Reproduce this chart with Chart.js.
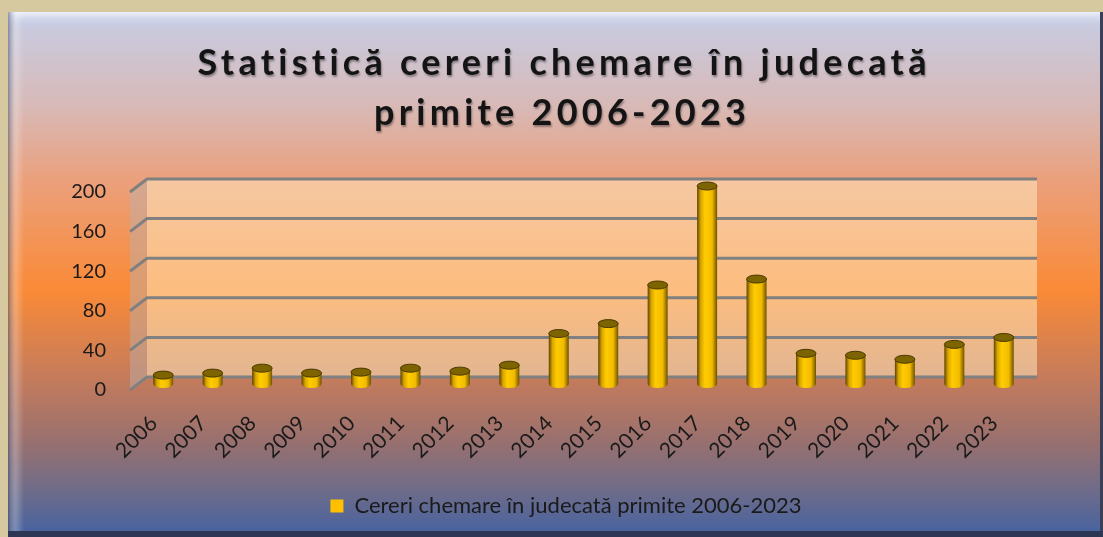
<!DOCTYPE html>
<html>
<head>
<meta charset="utf-8">
<script src="https://cdn.jsdelivr.net/npm/chart.js@4.4.1/dist/chart.umd.min.js"></script>
<style>
  html, body { margin: 0; padding: 0; overflow: hidden; }
  #wrap { width: 1103px; height: 537px; }
</style>
</head>
<body>
<div id="wrap"><canvas id="chart01"></canvas></div>
<script>
// date
var years = ['2006','2007','2008','2009','2010','2011','2012','2013','2014','2015','2016','2017','2018','2019','2020','2021','2022','2023'];
var cereri = [9, 11, 16, 11, 12, 16, 13, 19, 51, 61, 100, 200, 106, 31, 29, 25, 40, 47];
var yTicks = [0, 40, 80, 120, 160, 200];
var titleLines = ['Statistică cereri chemare în judecată', 'primite 2006-2023'];
var seriesName = 'Cereri chemare în judecată primite 2006-2023';

var DX = 17, DY = -13;   // adancimea peretelui 3D
var FONT = 'Lato, "Open Sans", sans-serif';

// fundal + cadru
var backgroundPlugin = {
  id: 'fundal',
  beforeDraw: function (chart) {
    var ctx = chart.ctx, W = chart.width, H = chart.height;
    ctx.save();
    ctx.fillStyle = '#d6c99f';
    ctx.fillRect(0, 0, W, H);

    var g = ctx.createLinearGradient(0, 12, 0, H);
    g.addColorStop(0.00, '#c6cde6');
    g.addColorStop(0.18, '#d8b9b6');
    g.addColorStop(0.32, '#eba07c');
    g.addColorStop(0.53, '#fa8a37');
    g.addColorStop(0.70, '#c47b5c');
    g.addColorStop(0.82, '#98706f');
    g.addColorStop(0.91, '#6f6c89');
    g.addColorStop(1.00, '#4462a2');
    ctx.fillStyle = g;
    ctx.fillRect(8, 12, W - 8, H - 12);

    // bizou sus
    var gt = ctx.createLinearGradient(0, 12, 0, 27);
    gt.addColorStop(0, '#eef1fb');
    gt.addColorStop(1, 'rgba(200,208,234,0)');
    ctx.fillStyle = gt;
    ctx.fillRect(8, 12, W - 8, 15);
    // bizou stanga
    var gl = ctx.createLinearGradient(8, 0, 24, 0);
    gl.addColorStop(0, 'rgba(70,80,110,0.55)');
    gl.addColorStop(0.5, 'rgba(255,255,255,0.25)');
    gl.addColorStop(1, 'rgba(255,255,255,0)');
    ctx.fillStyle = gl;
    ctx.fillRect(8, 12, 16, H - 12);
    // margini inchise
    ctx.fillStyle = '#3b4058';
    ctx.fillRect(W - 3, 12, 3, H - 12);
    ctx.fillStyle = '#2d3754';
    ctx.fillRect(8, H - 6, W - 8, 6);

    // titlu
    ctx.fillStyle = '#141414';
    ctx.font = 'bold 36px ' + FONT;
    ctx.textAlign = 'center';
    ctx.textBaseline = 'alphabetic';
    ctx.shadowColor = 'rgba(0,0,0,0.35)';
    ctx.shadowOffsetX = 1;
    ctx.shadowOffsetY = 2;
    ctx.shadowBlur = 2;
    var w0 = ctx.measureText(titleLines[0]).width;
    var sp = Math.max(0, (730 - w0) / (titleLines[0].length - 1));
    ctx.letterSpacing = sp.toFixed(2) + 'px';
    ctx.fillText(titleLines[0], 562 + sp / 2, 75);
    ctx.fillText(titleLines[1], 560 + sp / 2, 125);
    ctx.restore();
  }
};

// pereti 3D + cilindri
var cylinderPlugin = {
  id: 'cilindri',
  beforeDatasetsDraw: function (chart) {
    var ctx = chart.ctx, a = chart.chartArea, y = chart.scales.y;
    ctx.save();
    // perete spate
    ctx.fillStyle = 'rgba(255,240,200,0.5)';
    ctx.fillRect(a.left + DX, a.top + DY, a.right - a.left, a.bottom - a.top);
    // perete lateral
    ctx.beginPath();
    ctx.moveTo(a.left, a.top);
    ctx.lineTo(a.left + DX, a.top + DY);
    ctx.lineTo(a.left + DX, a.bottom + DY);
    ctx.lineTo(a.left, a.bottom);
    ctx.closePath();
    ctx.fillStyle = 'rgba(185,178,175,0.45)';
    ctx.fill();
    // linii de grila
    ctx.strokeStyle = '#808080';
    ctx.lineWidth = 3;
    yTicks.forEach(function (v) {
      var py = y.getPixelForValue(v);
      ctx.beginPath();
      ctx.moveTo(a.left, py);
      ctx.lineTo(a.left + DX, py + DY);
      ctx.lineTo(a.right + DX, py + DY);
      ctx.stroke();
    });

    var meta = chart.getDatasetMeta(0);
    meta.data.forEach(function (el) {
      var w = el.width, cx = el.x + DX / 2, top = el.y + DY / 2 + 0.5, bot = el.base + DY / 2 + 0.5;
      var x0 = cx - w / 2, ry = 4;
      var g = ctx.createLinearGradient(x0, 0, x0 + w, 0);
      g.addColorStop(0, '#5c4400');
      g.addColorStop(0.18, '#d9a400');
      g.addColorStop(0.4, '#ffcc00');
      g.addColorStop(0.75, '#f2bb00');
      g.addColorStop(1, '#6e5200');
      ctx.fillStyle = g;
      ctx.beginPath();
      ctx.moveTo(x0, top);
      ctx.lineTo(x0, bot);
      ctx.ellipse(cx, bot, w / 2, ry, 0, Math.PI, 0, true);
      ctx.lineTo(x0 + w, top);
      ctx.closePath();
      ctx.fill();
      // capac
      ctx.beginPath();
      ctx.ellipse(cx, top, w / 2, ry, 0, 0, Math.PI * 2);
      ctx.fillStyle = '#7d6400';
      ctx.fill();
      ctx.lineWidth = 1;
      ctx.strokeStyle = '#4a3a00';
      ctx.stroke();
    });
    ctx.restore();
    return false;
  },
  afterLayout: function (chart) {
    var lg = chart.legend;
    var shift = 56;
    lg.left += shift;
    lg.right += shift;
  }
};

var ctx = document.getElementById('chart01');
var chart = new Chart(ctx, {
  type: 'bar',
  data: {
    labels: years,
    datasets: [{
      label: seriesName,
      data: cereri,
      backgroundColor: '#FFC000',
      borderWidth: 0,
      barThickness: 20
    }]
  },
  options: {
    responsive: true,
    maintainAspectRatio: false,
    animation: false,
    devicePixelRatio: 1,
    layout: { padding: { left: 0, right: 83, top: 192, bottom: 10 } },
    scales: {
      x: {
        grid: { display: false, drawTicks: false },
        border: { display: false },
        ticks: {
          color: '#1a1a1a',
          font: { family: FONT, size: 21 },
          maxRotation: 45,
          minRotation: 45,
          padding: 21,
          labelOffset: -1,
          autoSkip: false
        },
        afterFit: function (s) { s.height = 95; }
      },
      y: {
        min: 0,
        max: 200,
        grid: { display: false, drawTicks: false },
        border: { display: false },
        ticks: {
          color: '#1a1a1a',
          font: { family: FONT, size: 20 },
          padding: 24,
          stepSize: 40
        },
        afterBuildTicks: function (s) { s.ticks = yTicks.map(function (v) { return { value: v }; }); },
        afterFit: function (s) { s.width = 130; }
      }
    },
    plugins: {
      title: { display: false },
      tooltip: { enabled: false },
      legend: {
        position: 'bottom',
        labels: {
          color: '#1a1a1a',
          font: { family: FONT, size: 22 },
          boxWidth: 13,
          boxHeight: 13,
          padding: 10
        }
      }
    }
  },
  plugins: [backgroundPlugin, cylinderPlugin]
});
</script>
</body>
</html>
